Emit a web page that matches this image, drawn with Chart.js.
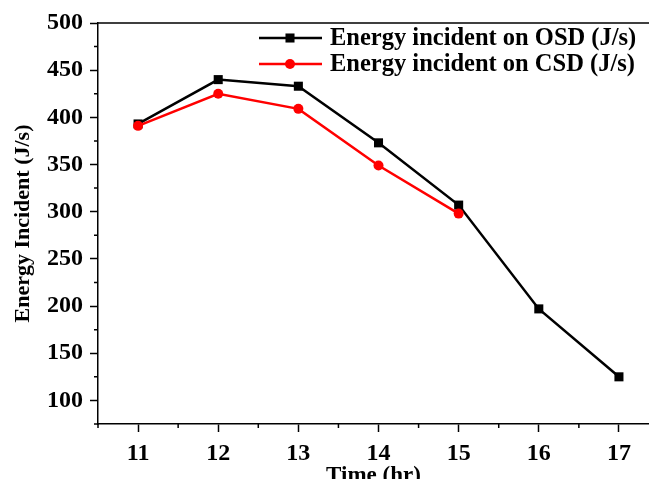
<!DOCTYPE html>
<html>
<head>
<meta charset="utf-8">
<script src="https://cdn.jsdelivr.net/npm/chart.js@4.4.1/dist/chart.umd.min.js"></script>
<style>
  html, body { margin: 0; padding: 0; background: #fff; overflow: hidden; }
  #wrap { width: 649px; height: 490px; }
</style>
</head>
<body>
<div id="wrap"><canvas id="chart" width="649" height="490"></canvas></div>
<script>
// Energy incident on OSD / CSD vs time of day
const hours      = [11, 12, 13, 14, 15, 16, 17];
const osdEnergy  = [393, 440, 433, 373, 307, 197, 125];
const csdEnergy  = [391, 425, 409, 349, 298, null, null];
const xTicks      = [11, 12, 13, 14, 15, 16, 17];
const xMinorTicks = [10.5, 11.5, 12.5, 13.5, 14.5, 15.5, 16.5];
const yTicks      = [100, 150, 200, 250, 300, 350, 400, 450, 500];
const yMinorTicks = [75, 125, 175, 225, 275, 325, 375, 425, 475];

const FONT = "'Liberation Serif', 'Times New Roman', serif";

function toPoints(vals) {
  return hours.map((h, i) => ({ x: h, y: vals[i] })).filter(p => p.y !== null);
}

// top frame line, minor ticks and the line+marker legend
const extras = {
  id: 'extras',
  afterDraw(chart) {
    const { ctx, chartArea: a, scales: { x, y } } = chart;
    ctx.save();
    ctx.strokeStyle = '#000';
    ctx.lineWidth = 1.5;
    ctx.beginPath();
    ctx.moveTo(a.left, a.top);
    ctx.lineTo(a.right, a.top);
    xMinorTicks.forEach(v => {
      const px = x.getPixelForValue(v);
      ctx.moveTo(px, a.bottom);
      ctx.lineTo(px, a.bottom + 4);
    });
    yMinorTicks.forEach(v => {
      const py = y.getPixelForValue(v);
      ctx.moveTo(a.left, py);
      ctx.lineTo(a.left - 4, py);
    });
    ctx.stroke();

    chart.data.datasets.forEach((ds, i) => {
      const ly = a.top + 15 + i * 26;
      const lx = a.left + 161;
      ctx.strokeStyle = ds.borderColor;
      ctx.lineWidth = ds.borderWidth;
      ctx.beginPath();
      ctx.moveTo(lx, ly);
      ctx.lineTo(lx + 63, ly);
      ctx.stroke();
      ctx.fillStyle = ds.backgroundColor;
      Chart.helpers.drawPoint(ctx, { pointStyle: ds.pointStyle, radius: ds.pointRadius, borderWidth: 0, rotation: 0 }, lx + 31, ly);
      ctx.fillStyle = '#000';
      ctx.font = 'bold 24.5px ' + FONT;
      ctx.textBaseline = 'middle';
      ctx.textAlign = 'left';
      ctx.fillText(ds.label, lx + 71, ly + 1);
    });
    ctx.restore();
  }
};

new Chart(document.getElementById('chart'), {
  type: 'line',
  data: {
    datasets: [
      {
        label: 'Energy incident on OSD (J/s)',
        data: toPoints(osdEnergy),
        borderColor: '#000000',
        backgroundColor: '#000000',
        borderWidth: 2.5,
        pointStyle: 'rect',
        pointRadius: 6.4,
        pointBorderWidth: 0,
        order: 1
      },
      {
        label: 'Energy incident on CSD (J/s)',
        data: toPoints(csdEnergy),
        borderColor: '#ff0000',
        backgroundColor: '#ff0000',
        borderWidth: 2.5,
        pointStyle: 'circle',
        pointRadius: 5,
        pointBorderWidth: 0,
        order: 0
      }
    ]
  },
  options: {
    responsive: false,
    animation: false,
    layout: { autoPadding: false, padding: { top: 23, right: 0, bottom: 0, left: 0 } },
    plugins: { legend: { display: false }, tooltip: { enabled: false } },
    scales: {
      x: {
        type: 'linear',
        min: 10.5,
        max: 17.375,
        afterBuildTicks: s => { s.ticks = xTicks.map(v => ({ value: v })); },
        afterFit: s => { s.height = 66; s.paddingLeft = 0; s.paddingRight = 0; },
        ticks: { color: '#000', font: { family: FONT, size: 24, weight: 'bold' }, padding: 7, maxRotation: 0, autoSkip: false },
        grid: { drawOnChartArea: false, tickLength: 8, tickColor: '#000', tickWidth: 1.5 },
        border: { color: '#000', width: 1.5 },
        title: { display: true, text: 'Time (hr)', color: '#000', font: { family: FONT, size: 23, weight: 'bold' }, padding: { top: 0, bottom: 0 } }
      },
      y: {
        min: 75,
        max: 500,
        afterBuildTicks: s => { s.ticks = yTicks.map(v => ({ value: v })); },
        afterFit: s => { s.width = 98; s.paddingTop = 0; s.paddingBottom = 0; },
        ticks: { color: '#000', font: { family: FONT, size: 24, weight: 'bold' }, padding: 7 },
        grid: { drawOnChartArea: false, tickLength: 8, tickColor: '#000', tickWidth: 1.5 },
        border: { color: '#000', width: 1.5 },
        title: { display: true, text: 'Energy Incident (J/s)', color: '#000', font: { family: FONT, size: 22, weight: 'bold' }, padding: { top: 10, bottom: 0 } }
      }
    }
  },
  plugins: [extras]
});
</script>
</body>
</html>
